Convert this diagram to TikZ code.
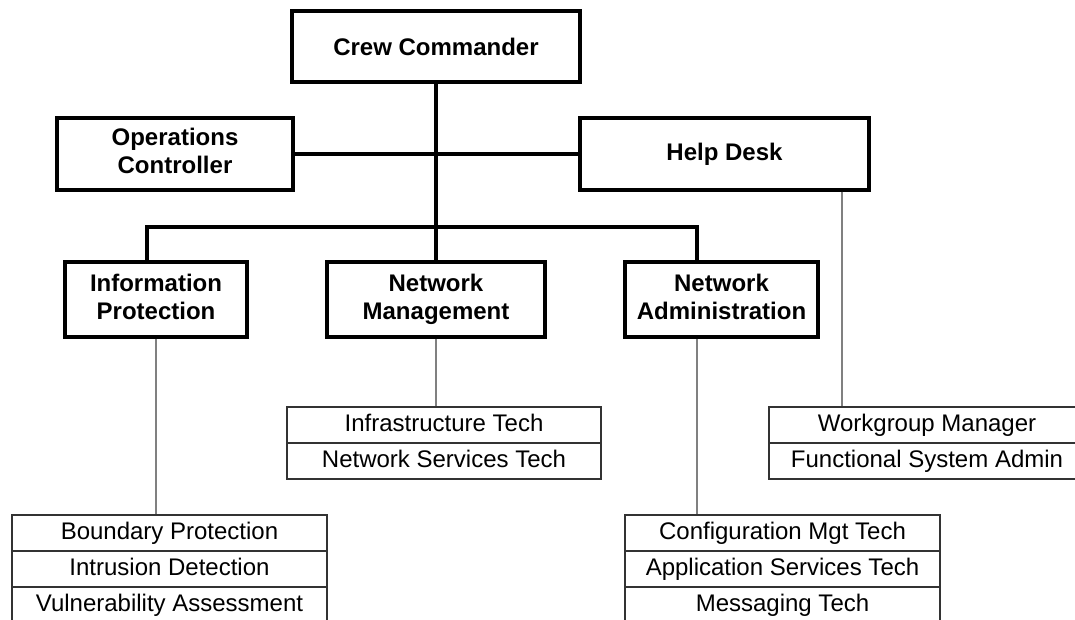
\documentclass[tikz,border=0pt]{standalone}
\usepackage{fontspec}
\setmainfont{Liberation Sans}
\begin{document}
\begin{tikzpicture}[x=1pt,y=-1pt,
  unit/.style={draw=black, line width=3.5pt, rectangle, align=center,
    inner sep=0pt, font=\fontsize{24}{28}\selectfont\bfseries},
  role/.style={draw=black!80, line width=1.1pt, rectangle, inner sep=0pt,
    minimum height=36pt, text height=17pt, text depth=5pt,
    font=\fontsize{24}{28}\selectfont},
  trunk/.style={line width=3.5pt, draw=black},
  twig/.style={line width=1.1pt, draw=black!50}
]
\useasboundingbox (0,0) rectangle (1075,620);
\clip (0,0) rectangle (1075,620);

% command and staff
\node[unit, minimum width=288pt, minimum height=71pt] (cc)   at (436,46.5) {Crew Commander};
\node[unit, minimum width=236pt, minimum height=72pt] (ops)  at (175,154) {Operations\strut\\Controller\strut};
\node[unit, minimum width=289pt, minimum height=72pt] (help) at (724.5,154) {Help Desk};

% sections
\node[unit, minimum width=182pt, minimum height=75pt] (ip) at (156,299.5) {Information\strut\\Protection\strut};
\node[unit, minimum width=218pt, minimum height=75pt] (nm) at (436,299.5) {Network\strut\\Management\strut};
\node[unit, minimum width=193pt, minimum height=75pt] (na) at (721.5,299.5) {Network\strut\\Administration\strut};

% duty positions
\node[role, minimum width=315pt] (bp) at (169.5,533) {Boundary Protection};
\node[role, minimum width=315pt] (id) at (169.5,569) {Intrusion Detection};
\node[role, minimum width=315pt] (va) at (169.5,605) {Vulnerability Assessment};

\node[role, minimum width=314pt] (it) at (444,425) {Infrastructure Tech};
\node[role, minimum width=314pt] (ns) at (444,461) {Network Services Tech};

\node[role, minimum width=315pt] (cm) at (782.5,533) {Configuration Mgt Tech};
\node[role, minimum width=315pt] (as) at (782.5,569) {Application Services Tech};
\node[role, minimum width=315pt] (mt) at (782.5,605) {Messaging Tech};

\node[role, minimum width=316pt] (wm) at (927,425) {Workgroup Manager};
\node[role, minimum width=316pt] (fs) at (927,461) {Functional System Admin};

% command lines
\coordinate (bus) at (436,227);
\draw[trunk] (cc.south) -- (nm.north);
\draw[trunk] (ops.east) -- (help.west);
\draw[trunk] ([xshift=-9pt]ip.north) |- (bus) -| ([xshift=-24.5pt]na.north);

% links to duty positions
\draw[twig] (ip.south) -- (ip.south |- bp.north);
\draw[twig] (nm.south) -- (nm.south |- it.north);
\draw[twig] ([xshift=-24.5pt]na.south) -- ([xshift=-24.5pt]na.south |- cm.north);
\draw[twig] ([xshift=117.5pt]help.south) -- ([xshift=117.5pt]help.south |- wm.north);
\end{tikzpicture}
\end{document}
